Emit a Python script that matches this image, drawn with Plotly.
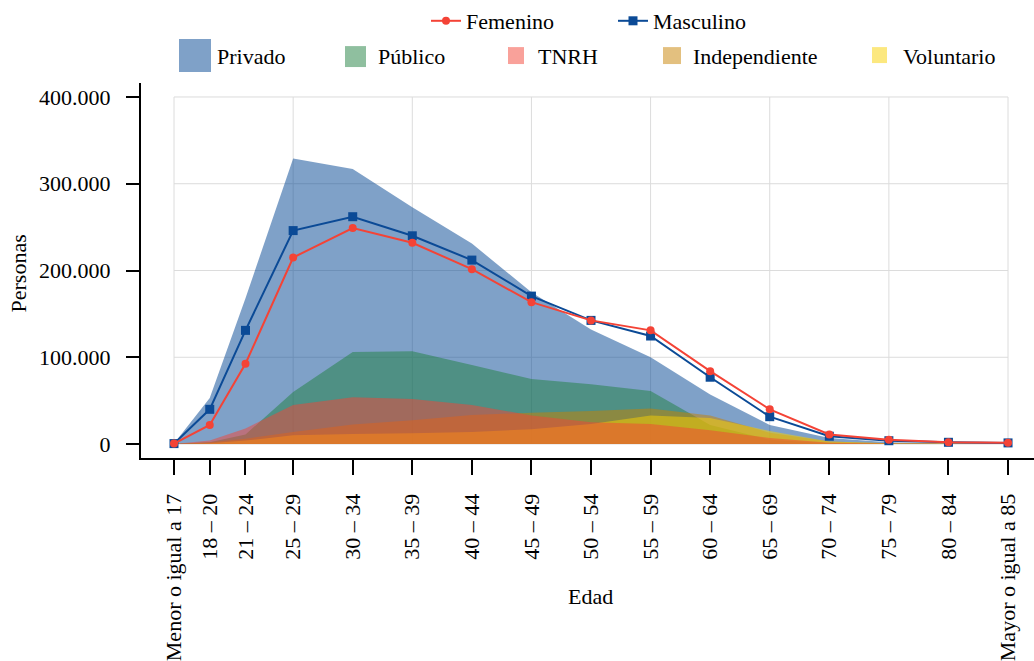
import plotly.graph_objects as go

# Age group positions (lower bound of each group) and labels
edad_x = [15, 18, 21, 25, 30, 35, 40, 45, 50, 55, 60, 65, 70, 75, 80, 85]
edad_labels = ["Menor o igual a 17", "18 – 20", "21 – 24", "25 – 29", "30 – 34",
               "35 – 39", "40 – 44", "45 – 49", "50 – 54", "55 – 59", "60 – 64",
               "65 – 69", "70 – 74", "75 – 79", "80 – 84", "Mayor o igual a 85"]

femenino = [500, 22000, 92500, 215000, 249000, 232000, 201500, 163500, 142500,
            131000, 84000, 40000, 11000, 5000, 2000, 1500]
masculino = [500, 40000, 131000, 246000, 262000, 240000, 212000, 170500, 142500,
             124500, 77000, 31500, 9000, 3800, 2000, 1300]

privado = [500, 53000, 168000, 329000, 317000, 273000, 231000, 175000, 132000,
           100000, 57000, 22000, 7000, 2000, 1000, 500]
publico = [0, 2000, 11000, 60000, 106000, 107000, 91000, 75000, 69000,
           61000, 22000, 5000, 1000, 300, 100, 0]
tnrh = [0, 4000, 18000, 45000, 54000, 52000, 45000, 33000, 25000,
        23000, 16000, 7000, 1500, 500, 200, 100]
independiente = [0, 2000, 6000, 14000, 22500, 27500, 33500, 36000, 38000,
                 41000, 33000, 13000, 3000, 1000, 500, 300]
voluntario = [0, 1000, 4000, 10000, 11500, 12300, 14000, 17000, 23000,
              33000, 30000, 15000, 3000, 1000, 500, 200]

y_ticks = [0, 100000, 200000, 300000, 400000]
x_grid = [15, 25, 35, 45, 55, 65, 75, 85]

FONT = "Liberation Serif"
FS = 22

# figure geometry (pixels)
W, H = 1034, 661
ML, MR, MT, MB = 141, 0, 82, 203
PW, PH = W - ML - MR, H - MT - MB


def px(xp):
    return (xp - ML) / PW


def py(yp):
    return (H - MB - yp) / PH


fig = go.Figure()

# name, values, fill colour, legend swatch box (x0, x1, y0, y1 px), label x px
areas = [
    ("Privado", privado, "rgba(0,67,145,0.5)", (179, 211, 38, 71), 215),
    ("Público", publico, "rgba(31,127,63,0.5)", (345, 366, 45, 66), 376),
    ("Independiente", independiente, "rgba(199,129,0,0.5)", (663, 681, 46, 63), 691),
    ("Voluntario", voluntario, "rgba(249,209,0,0.5)", (872, 887, 46, 62), 901),
    ("TNRH", tnrh, "rgba(243,67,53,0.5)", (508, 524, 46, 63), 536),
]
for name, vals, col, _, _ in areas:
    fig.add_trace(go.Scatter(
        x=edad_x, y=vals, name=name, mode="none", fill="tozeroy",
        fillcolor=col, showlegend=False, hoverinfo="x+y+name"))

fig.add_trace(go.Scatter(
    x=edad_x, y=masculino, name="Masculino", mode="lines+markers",
    line=dict(color="#0B4A96", width=2),
    marker=dict(symbol="square", size=9, color="#0B4A96"),
    legend="legend2"))
fig.add_trace(go.Scatter(
    x=edad_x, y=femenino, name="Femenino", mode="lines+markers",
    line=dict(color="#F44336", width=2),
    marker=dict(symbol="circle", size=8, color="#F44336"),
    legend="legend"))

shapes = []
for yv in y_ticks:
    shapes.append(dict(type="line", xref="x", yref="y", x0=x_grid[0], x1=x_grid[-1],
                       y0=yv, y1=yv, line=dict(color="#DCDCDC", width=1), layer="below"))
for xv in x_grid:
    shapes.append(dict(type="line", xref="x", yref="y", x0=xv, x1=xv,
                       y0=y_ticks[0], y1=y_ticks[-1], line=dict(color="#DCDCDC", width=1),
                       layer="below"))

annotations = []
# area legend (second row): swatches and labels
for name, _, col, (x0, x1, y0, y1), tx in areas:
    shapes.append(dict(type="rect", xref="paper", yref="paper",
                       x0=px(x0), x1=px(x1), y0=py(y1), y1=py(y0),
                       fillcolor=col, line=dict(width=0)))
    annotations.append(dict(text=name, xref="paper", yref="paper", x=px(tx), y=py(55),
                            xanchor="left", yanchor="middle", showarrow=False,
                            font=dict(family=FONT, size=FS)))

# axis titles
annotations.append(dict(text="Personas", xref="paper", yref="paper", x=px(18), y=py(273),
                        xanchor="center", yanchor="middle", textangle=-90, showarrow=False,
                        font=dict(family=FONT, size=FS)))
annotations.append(dict(text="Edad", xref="paper", yref="paper", x=px(590), y=py(597),
                        xanchor="center", yanchor="middle", showarrow=False,
                        font=dict(family=FONT, size=FS)))

fig.update_layout(
    width=W, height=H,
    margin=dict(l=ML, r=MR, t=MT, b=MB),
    paper_bgcolor="white", plot_bgcolor="white",
    font=dict(family=FONT, size=FS, color="black"),
    separators=",.",
    shapes=shapes,
    annotations=annotations,
    showlegend=True,
    legend=dict(orientation="h", x=px(426), y=py(20), xanchor="left", yanchor="middle",
                font=dict(family=FONT, size=FS), bgcolor="rgba(0,0,0,0)"),
    legend2=dict(orientation="h", x=px(613), y=py(20), xanchor="left", yanchor="middle",
                 font=dict(family=FONT, size=FS), bgcolor="rgba(0,0,0,0)"),
    xaxis=dict(
        range=[12.23, 87.18], tickmode="array", tickvals=edad_x, ticktext=edad_labels,
        tickangle=-90, showgrid=False, zeroline=False, showline=True, automargin=False,
        linecolor="black", linewidth=2, ticks="outside", ticklen=15, tickwidth=2,
        tickcolor="black", ticklabelstandoff=10, tickfont=dict(family=FONT, size=FS)),
    yaxis=dict(
        range=[-16100, 416100], tickmode="array", tickvals=y_ticks, tickformat=",d",
        showgrid=False, zeroline=False, showline=True, linecolor="black", linewidth=2,
        automargin=False, ticks="outside", ticklen=13, tickwidth=2, tickcolor="black",
        ticklabelstandoff=11, tickfont=dict(family=FONT, size=FS)),
)

fig.write_html("out.html", config={"displayModeBar": False},
               post_script="document.body.style.margin='0';")
